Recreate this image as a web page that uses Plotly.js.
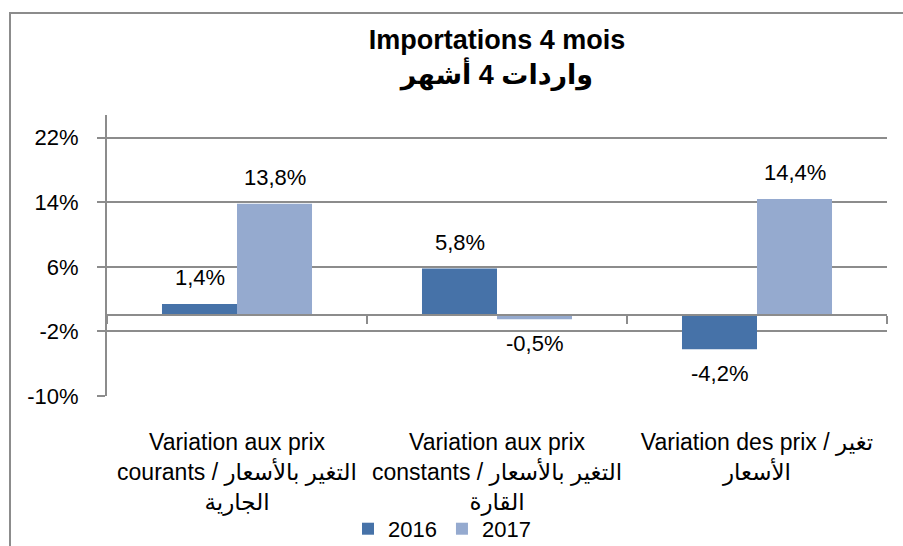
<!DOCTYPE html>
<html>
<head>
<meta charset="utf-8">
<script src="https://cdn.plot.ly/plotly-3.0.1.min.js"></script>
<style>
  html, body { margin: 0; padding: 0; width: 903px; height: 546px; overflow: hidden; background: #fff; }
  #frame { position: absolute; left: 9px; top: 12px; width: 1000px; height: 1000px;
           border-left: 2px solid #8c8c8c; border-top: 2px solid #8c8c8c; }
  #chart { position: absolute; left: 0; top: 0; width: 903px; height: 546px; }
</style>
</head>
<body>
<div id="frame"></div>
<div id="chart"></div>
<script>
// ---- data ----
const categories = [
  "Variation aux prix<br>courants / التغير بالأسعار<br>الجارية",
  "Variation aux prix<br>constants / التغير بالأسعار<br>القارة",
  "Variation des prix / تغير<br>الأسعار"
];
const series2016 = [1.4, 5.8, -4.2];
const series2017 = [13.8, -0.5, 14.4];
const seriesNames = ["2016", "2017"];
const yTickVals = [-10, -2, 6, 14, 22];
const yTickText = ["-10%", "-2%", "6%", "14%", "22%"];

// ---- styling ----
const FONT = '"Liberation Sans", Arial, "DejaVu Sans", sans-serif';
const GRID = '#8c8c8c';
const colors = ['#4672a8', '#95aacf'];
const bargap = 0.423;
const yRange = [-10, 24.8];

const traces = [
  { type: 'bar', name: seriesNames[0], x: categories, y: series2016,
    marker: { color: colors[0] }, hoverinfo: 'skip' },
  { type: 'bar', name: seriesNames[1], x: categories, y: series2017,
    marker: { color: colors[1] }, hoverinfo: 'skip' },
  // helper for the category axis line drawn at zero
  { type: 'scatter', mode: 'none', x: categories, y: categories.map(() => 0),
    xaxis: 'x2', yaxis: 'y', showlegend: false, hoverinfo: 'skip' }
];

const fmt = v => v.toFixed(1).replace('.', ',') + '%';
const off = (1 - bargap) / 4;
const annotations = [];
[series2016, series2017].forEach((s, si) => {
  s.forEach((v, i) => {
    annotations.push({
      xref: 'x', yref: 'y',
      x: i + (si === 0 ? -off : off), y: v,
      text: fmt(v), showarrow: false,
      yanchor: 'middle', yshift: v >= 0 ? 26 : -24,
      font: { family: FONT, size: 22, color: '#000' }
    });
  });
});

const zeroPos = (0 - yRange[0]) / (yRange[1] - yRange[0]);

const layout = {
  width: 903, height: 546,
  margin: { l: 107, r: 16, t: 115, b: 150, autoexpand: false },
  paper_bgcolor: 'rgba(0,0,0,0)',
  plot_bgcolor: 'rgba(0,0,0,0)',
  font: { family: FONT, color: '#000' },
  title: {
    text: '<b>Importations 4 mois<br>واردات 4 أشهر</b>',
    font: { family: FONT, size: 27, color: '#000' },
    xref: 'paper', x: 0.5, xanchor: 'center',
    yref: 'container', y: 0.911, yanchor: 'top'
  },
  barmode: 'group',
  bargap: bargap,
  bargroupgap: 0,
  showlegend: true,
  legend: {
    orientation: 'h', x: 0.4295, xanchor: 'center',
    y: -0.473, yanchor: 'middle',
    font: { family: FONT, size: 22, color: '#000' },
    bgcolor: 'rgba(0,0,0,0)'
  },
  xaxis: {
    type: 'category', categoryorder: 'array', categoryarray: categories,
    range: [-0.5, 2.5], automargin: false,
    showline: false, showgrid: false, zeroline: false,
    ticks: '', ticklabelstandoff: 30,
    tickfont: { family: FONT, size: 23, color: '#000' }
  },
  xaxis2: {
    type: 'category', categoryorder: 'array', categoryarray: categories,
    range: [-0.5, 2.5], automargin: false,
    overlaying: 'x', anchor: 'free', position: zeroPos, side: 'bottom',
    showline: true, linecolor: GRID, linewidth: 2,
    ticks: 'outside', tickson: 'boundaries', ticklen: 8, tickwidth: 2, tickcolor: GRID,
    showticklabels: false, showgrid: false, zeroline: false
  },
  yaxis: {
    range: yRange, automargin: false,
    tickvals: yTickVals, ticktext: yTickText,
    showgrid: true, gridcolor: GRID, gridwidth: 2,
    zeroline: false,
    showline: true, linecolor: GRID, linewidth: 2,
    ticks: 'outside', ticklen: 8, tickwidth: 2, tickcolor: GRID,
    ticklabelstandoff: 14,
    tickfont: { family: FONT, size: 22, color: '#000' }
  },
  annotations: annotations
};

Plotly.newPlot('chart', traces, layout, { displayModeBar: false, staticPlot: true });
</script>
</body>
</html>
